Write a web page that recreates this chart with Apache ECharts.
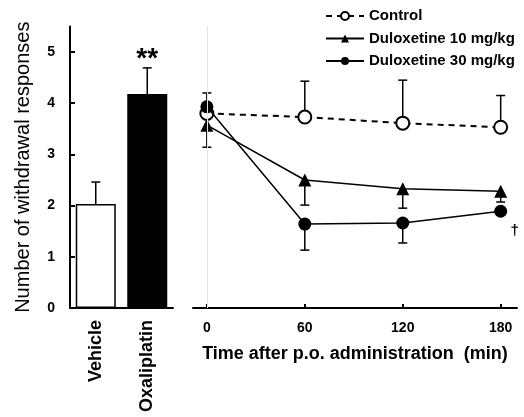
<!DOCTYPE html>
<html>
<head>
<meta charset="utf-8">
<script src="https://cdn.jsdelivr.net/npm/echarts@6/dist/echarts.min.js"></script>
<style>
html, body { margin: 0; padding: 0; background: #fff; }
#chart { width: 524px; height: 417px; }
</style>
</head>
<body>
<div id="chart"></div>
<script>
// left panel: withdrawal responses before drug
const groups = ['Vehicle', 'Oxaliplatin'];
const barMeans = [2.03, 4.18];
const barErrTop = [2.46, 4.69];
const barMarks = ['', '**'];

// right panel: time course after p.o. administration
const timePoints = [0, 60, 120, 180];
const controlMean = [3.8, 3.73, 3.61, 3.53];
const controlErr = [4.2, 4.43, 4.45, 4.15];
const dulox10Mean = [3.57, 2.5, 2.33, 2.28];
const dulox10Err = [3.14, 2.01, 1.95, 2.07];
const dulox30Mean = [3.93, 1.64, 1.66, 1.89];
const dulox30Err = [3.93, 1.13, 1.27, 1.89];
const dulox30Marks = ['', '', '', '†'];

const yTicks = [0, 1, 2, 3, 4, 5];
const xTicks = [0, 60, 120, 180];

const FONT = 'Liberation Sans, Arial, sans-serif';

function errRender(marks, markOffset) {
    return function (params, api) {
        const x = api.value(0);
        const p1 = api.coord([x, api.value(1)]);
        const p2 = api.coord([x, api.value(2)]);
        const children = [];
        if (Math.abs(p1[1] - p2[1]) > 0.5) {
            children.push({type: 'line', shape: {x1: p1[0], y1: p1[1], x2: p2[0], y2: p2[1]},
                style: {stroke: '#000', lineWidth: 1.5}});
            children.push({type: 'line', shape: {x1: p2[0] - 4.5, y1: p2[1], x2: p2[0] + 4.5, y2: p2[1]},
                style: {stroke: '#000', lineWidth: 1.5}});
        }
        const m = marks ? marks[params.dataIndex] : '';
        if (m) {
            children.push({type: 'text', x: p2[0] + markOffset[0], y: p2[1] + markOffset[1],
                style: {text: m, fill: '#000', font: markOffset[2], align: 'center', verticalAlign: 'middle'}});
        }
        return {type: 'group', children: children};
    };
}

const chart = echarts.init(document.getElementById('chart'));
const option = {
    animation: false,
    textStyle: {fontFamily: FONT},
    grid: [
        {left: 70, width: 103, top: 26.4, bottom: 109},
        {left: 193, right: 7, top: 26.4, bottom: 109}
    ],
    legend: {
        orient: 'vertical', left: 325, top: 8, padding: 0,
        itemWidth: 38, itemHeight: 10, itemGap: 6.5,
        textStyle: {fontFamily: FONT, fontWeight: 'bold', fontSize: 15, lineHeight: 16, color: '#000'},
        data: ['Control', 'Duloxetine 10 mg/kg', 'Duloxetine 30 mg/kg']
    },
    xAxis: [
        {
            gridIndex: 0, type: 'category', data: groups,
            axisLine: {lineStyle: {color: '#000', width: 2}},
            axisTick: {show: false},
            axisLabel: {rotate: 90, color: '#000', fontWeight: 'bold', fontSize: 18, margin: 12}
        },
        {
            gridIndex: 1, type: 'value', min: -8.5, max: 190,
            axisLine: {onZero: false, lineStyle: {color: '#000', width: 2}},
            axisTick: {inside: true, length: 4, customValues: xTicks, lineStyle: {color: '#000', width: 2}},
            axisLabel: {customValues: xTicks, color: '#000', fontWeight: 'bold', fontSize: 14, margin: 13},
            splitLine: {show: false},
            name: 'Time after p.o. administration  (min)', nameLocation: 'middle', nameGap: 37,
            nameTextStyle: {color: '#000', fontWeight: 'bold', fontSize: 18}
        }
    ],
    yAxis: [
        {
            gridIndex: 0, type: 'value', min: 0, max: 5.5,
            axisLine: {show: true, lineStyle: {color: '#000', width: 2}},
            axisTick: {show: true, inside: true, length: 5, customValues: yTicks, lineStyle: {color: '#000', width: 2}},
            axisLabel: {customValues: yTicks, color: '#000', fontWeight: 'bold', fontSize: 14, margin: 15},
            splitLine: {show: false},
            name: 'Number of withdrawal responses', nameLocation: 'middle', nameGap: 37,
            nameTextStyle: {color: '#000', fontSize: 20}
        },
        {
            gridIndex: 1, type: 'value', min: 0, max: 5.5,
            axisLine: {show: false}, axisTick: {show: false}, axisLabel: {show: false},
            splitLine: {show: false}
        }
    ],
    series: [
        {
            type: 'bar', xAxisIndex: 0, yAxisIndex: 0, barWidth: 40,
            data: barMeans.map((v, i) => ({
                value: v,
                itemStyle: {color: i === 0 ? '#fff' : '#000', borderColor: '#000', borderWidth: 1.5}
            }))
        },
        {
            type: 'custom', xAxisIndex: 0, yAxisIndex: 0, z: 3,
            renderItem: errRender(barMarks, [0, -9, 'bold 28px ' + FONT]),
            data: barMeans.map((v, i) => [i, v, barErrTop[i]])
        },
        {
            type: 'custom', xAxisIndex: 1, yAxisIndex: 1, z: 1,
            renderItem: errRender(null),
            data: timePoints.map((t, i) => [t, controlMean[i], controlErr[i]])
        },
        {
            type: 'custom', xAxisIndex: 1, yAxisIndex: 1, z: 1,
            renderItem: errRender(null),
            data: timePoints.map((t, i) => [t, dulox10Mean[i], dulox10Err[i]])
        },
        {
            type: 'custom', xAxisIndex: 1, yAxisIndex: 1, z: 1,
            renderItem: errRender(dulox30Marks, [14, 20, 'bold 15px ' + FONT]),
            data: timePoints.map((t, i) => [t, dulox30Mean[i], dulox30Err[i]])
        },
        {
            name: 'Control', type: 'line', xAxisIndex: 1, yAxisIndex: 1, z: 3,
            symbol: 'circle', symbolSize: 13,
            lineStyle: {color: '#000', width: 2, type: [6, 5]},
            itemStyle: {color: '#fff', borderColor: '#000', borderWidth: 2},
            data: timePoints.map((t, i) => [t, controlMean[i]]),
            markLine: {
                silent: true, symbol: 'none', label: {show: false},
                lineStyle: {color: '#e4e4e4', width: 1, type: 'solid'},
                data: [{xAxis: 0}]
            }
        },
        {
            name: 'Duloxetine 10 mg/kg', type: 'line', xAxisIndex: 1, yAxisIndex: 1, z: 3,
            symbol: 'triangle', symbolSize: 13,
            lineStyle: {color: '#000', width: 1.5},
            itemStyle: {color: '#000'},
            data: timePoints.map((t, i) => [t, dulox10Mean[i]])
        },
        {
            name: 'Duloxetine 30 mg/kg', type: 'line', xAxisIndex: 1, yAxisIndex: 1, z: 4,
            symbol: 'circle', symbolSize: 13,
            lineStyle: {color: '#000', width: 1.5},
            itemStyle: {color: '#000'},
            data: timePoints.map((t, i) => [t, dulox30Mean[i]])
        }
    ]
};
chart.setOption(option);
</script>
</body>
</html>
